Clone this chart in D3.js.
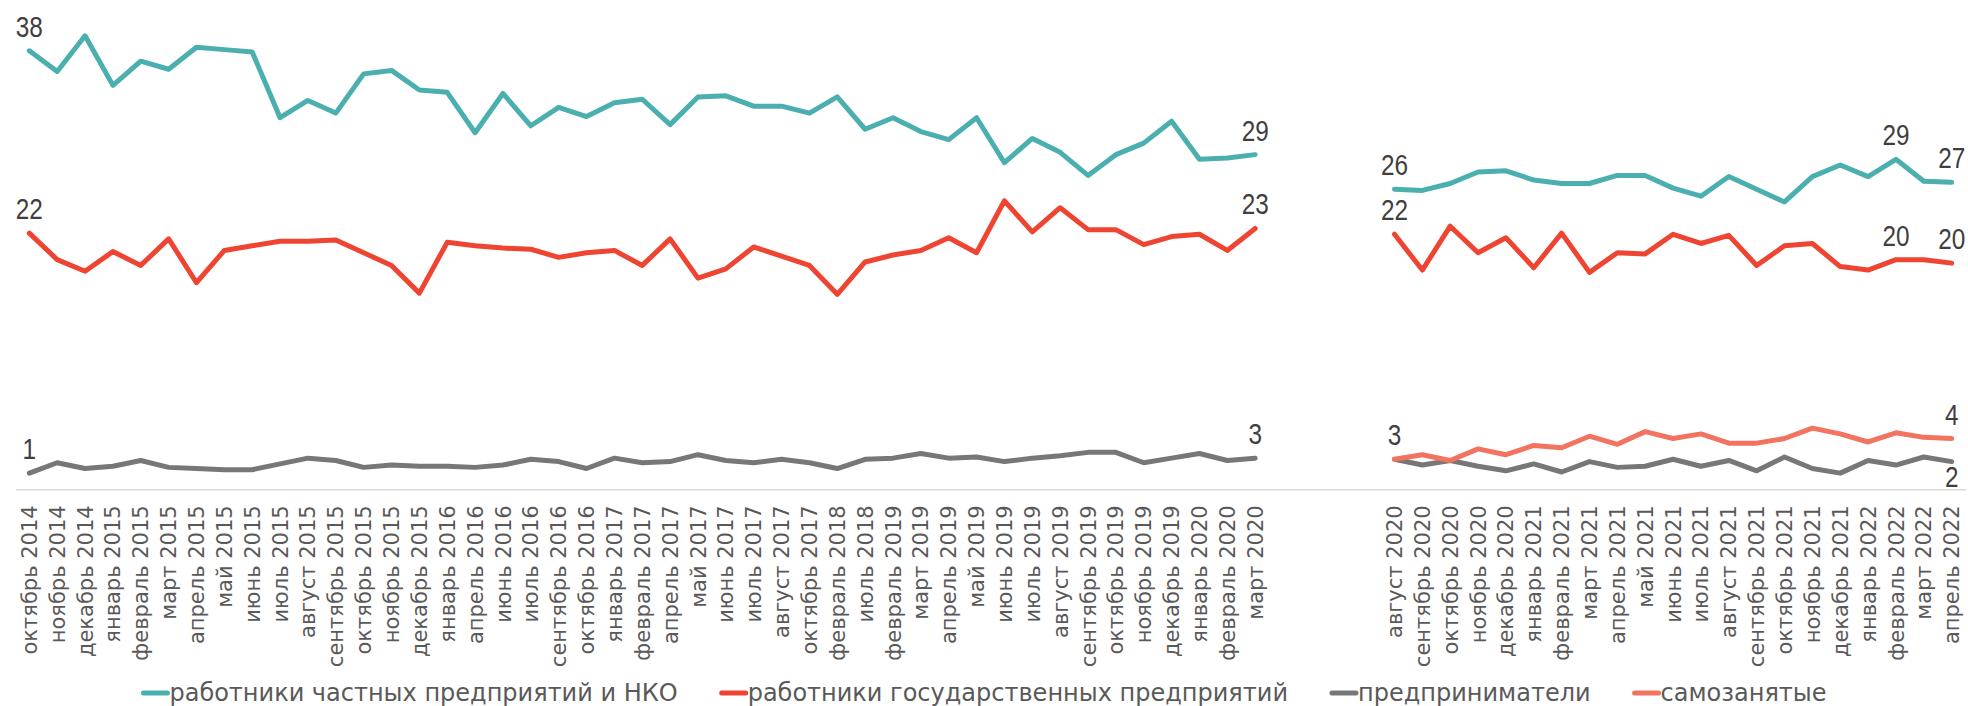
<!DOCTYPE html>
<html>
<head>
<meta charset="utf-8">
<script src="https://cdn.jsdelivr.net/npm/d3@7"></script>
<style>
  body { margin: 0; background: #fff; }
  svg { display: block; }
</style>
</head>
<body>
<svg id="chart"></svg>
<script>
// survey periods, before and after the break in the series
var periodsA = ["октябрь 2014", "ноябрь 2014", "декабрь 2014", "январь 2015", "февраль 2015", "март 2015",
  "апрель 2015", "май 2015", "июнь 2015", "июль 2015", "август 2015", "сентябрь 2015", "октябрь 2015",
  "ноябрь 2015", "декабрь 2015", "январь 2016", "апрель 2016", "июнь 2016", "июль 2016", "сентябрь 2016",
  "октябрь 2016", "январь 2017", "февраль 2017", "апрель 2017", "май 2017", "июнь 2017", "июль 2017",
  "август 2017", "октябрь 2017", "февраль 2018", "июль 2018", "февраль 2019", "март 2019", "апрель 2019",
  "май 2019", "июнь 2019", "июль 2019", "август 2019", "сентябрь 2019", "октябрь 2019", "ноябрь 2019",
  "декабрь 2019", "январь 2020", "февраль 2020", "март 2020"];
var periodsB = ["август 2020", "сентябрь 2020", "октябрь 2020", "ноябрь 2020", "декабрь 2020", "январь 2021",
  "февраль 2021", "март 2021", "апрель 2021", "май 2021", "июнь 2021", "июль 2021", "август 2021",
  "сентябрь 2021", "октябрь 2021", "ноябрь 2021", "декабрь 2021", "январь 2022", "февраль 2022",
  "март 2022", "апрель 2022"];
var gapSize = 4; // empty slots between the two periods

var privateA = [38.0, 36.2, 39.3, 35.0, 37.1, 36.4, 38.3, 38.1, 37.9, 32.2, 33.7, 32.6, 36.0, 36.3, 34.6,
  34.4, 30.9, 34.3, 31.5, 33.1, 32.3, 33.5, 33.8, 31.6, 34.0, 34.1, 33.2, 33.2, 32.6, 34.0, 31.2, 32.2,
  31.0, 30.3, 32.2, 28.3, 30.4, 29.2, 27.2, 29.0, 30.0, 31.9, 28.6, 28.7, 29.0];
var privateB = [26.0, 25.9, 26.5, 27.5, 27.6, 26.8, 26.5, 26.5, 27.2, 27.2, 26.1, 25.4, 27.1, 26.0, 24.9,
  27.1, 28.1, 27.1, 28.6, 26.7, 26.6];

var stateA = [22.2, 19.9, 18.9, 20.6, 19.4, 21.7, 17.9, 20.7, 21.1, 21.5, 21.5, 21.6, 20.5, 19.4, 17.0,
  21.4, 21.1, 20.9, 20.8, 20.1, 20.5, 20.7, 19.4, 21.7, 18.3, 19.1, 21.0, 20.2, 19.4, 16.9, 19.7, 20.3,
  20.7, 21.8, 20.5, 25.0, 22.3, 24.4, 22.5, 22.5, 21.2, 21.9, 22.1, 20.7, 22.6];
var stateB = [22.1, 19.0, 22.8, 20.5, 21.8, 19.2, 22.2, 18.8, 20.5, 20.4, 22.1, 21.3, 22.0, 19.4, 21.1,
  21.3, 19.3, 19.0, 19.9, 19.9, 19.6];

var entrepA = [1.4, 2.3, 1.8, 2.0, 2.5, 1.9, 1.8, 1.7, 1.7, 2.2, 2.7, 2.5, 1.9, 2.1, 2.0, 2.0, 1.9, 2.1,
  2.6, 2.4, 1.8, 2.7, 2.3, 2.4, 3.0, 2.5, 2.3, 2.6, 2.3, 1.8, 2.6, 2.7, 3.1, 2.7, 2.8, 2.4, 2.7, 2.9,
  3.2, 3.2, 2.3, 2.7, 3.1, 2.5, 2.7];
var entrepB = [2.6, 2.1, 2.5, 2.0, 1.6, 2.2, 1.5, 2.4, 1.9, 2.0, 2.6, 2.0, 2.5, 1.6, 2.8, 1.8, 1.4, 2.5,
  2.1, 2.8, 2.4];

var selfB = [2.6, 3.0, 2.5, 3.5, 3.0, 3.8, 3.6, 4.6, 3.9, 5.0, 4.4, 4.8, 4.0, 4.0, 4.4, 5.3, 4.8, 4.1,
  4.9, 4.5, 4.4];

var seriesNames = ["работники частных предприятий и НКО", "работники государственных предприятий",
  "предприниматели", "самозанятые"];
var seriesColors = ["#4bafaf", "#ef4432", "#777777", "#f2735f"];

// which points carry a value label: [series, part, index, side]
var labelled = [
  [0, "A", 0, "up"], [0, "A", 44, "up"], [1, "A", 0, "up"], [1, "A", 44, "up"],
  [2, "A", 0, "up"], [2, "A", 44, "up"],
  [0, "B", 0, "up"], [0, "B", 18, "up"], [0, "B", 20, "up"],
  [1, "B", 0, "up"], [1, "B", 18, "up"], [1, "B", 20, "up"],
  [3, "B", 0, "up"], [2, "B", 20, "down"], [3, "B", 20, "up"]
];

var width = 1968, height = 706;
var plot = { left: 15.4, right: 1965.6, top: 27.7, bottom: 489.3 };

var series = [
  { A: privateA, B: privateB },
  { A: stateA, B: stateB },
  { A: entrepA, B: entrepB },
  { A: null, B: selfB }
];

var categories = periodsA.concat(d3.range(gapSize).map(function() { return ""; }), periodsB);
var offsetB = periodsA.length + gapSize;

var svg = d3.select("#chart")
  .attr("width", width)
  .attr("height", height);

svg.append("rect").attr("width", width).attr("height", height).attr("fill", "#fff");

var x = d3.scaleBand()
  .domain(d3.range(categories.length))
  .range([plot.left, plot.right])
  .padding(0);

var y = d3.scaleLinear()
  .domain([0, 40])
  .range([plot.bottom, plot.top]);

function cx(i) { return x(i) + x.bandwidth() / 2; }

function points(values, offset) {
  return values.map(function(v, k) { return { i: k + offset, v: v }; });
}

// x axis with rotated month labels
var xAxis = svg.append("g")
  .attr("transform", "translate(0," + plot.bottom + ")")
  .call(d3.axisBottom(x).tickSize(0).tickSizeOuter(0).tickFormat(function(i) { return categories[i]; }));

xAxis.select(".domain").attr("stroke", "#d9d9d9").attr("stroke-width", 1.5);
xAxis.selectAll("text")
  .attr("transform", "rotate(-90)")
  .attr("x", -16)
  .attr("y", 0)
  .attr("dy", "0.36em")
  .style("text-anchor", "end")
  .style("font-family", "'DejaVu Sans', sans-serif")
  .style("font-size", "21px")
  .attr("fill", "#595959");

var line = d3.line()
  .x(function(d) { return cx(d.i); })
  .y(function(d) { return y(d.v); });

series.forEach(function(s, n) {
  [["A", 0], ["B", offsetB]].forEach(function(part) {
    var vals = s[part[0]];
    if (!vals) return;
    svg.append("path")
      .datum(points(vals, part[1]))
      .attr("d", line)
      .attr("fill", "none")
      .attr("stroke", seriesColors[n])
      .attr("stroke-width", 5)
      .attr("stroke-linejoin", "round")
      .attr("stroke-linecap", "round");
  });
});

// value labels, squeezed a bit to look like the narrow face of the original
labelled.forEach(function(l) {
  var vals = series[l[0]][l[1]];
  var i = l[2] + (l[1] == "A" ? 0 : offsetB);
  var v = vals[l[2]];
  var ty = l[3] == "up" ? y(v) - 14 : y(v) + 25;
  svg.append("text")
    .attr("transform", "translate(" + cx(i) + "," + ty + ") scale(0.84,1)")
    .attr("text-anchor", "middle")
    .style("font-family", "'Liberation Sans', sans-serif")
    .style("font-size", "29px")
    .attr("fill", "#3f3f3f")
    .text(d3.format(".0f")(v));
});

// legend, centred under the chart
var legend = svg.append("g");
var lx = 0;
seriesNames.forEach(function(name, n) {
  var g = legend.append("g").attr("transform", "translate(" + lx + ",0)");
  g.append("line")
    .attr("x1", 2).attr("x2", 26)
    .attr("y1", -8).attr("y2", -8)
    .attr("stroke", seriesColors[n])
    .attr("stroke-width", 5)
    .attr("stroke-linecap", "round");
  var t = g.append("text")
    .attr("x", 28)
    .style("font-family", "'DejaVu Sans', sans-serif")
    .style("font-size", "24px")
    .attr("fill", "#595959")
    .text(name);
  lx += 28 + t.node().getComputedTextLength() + 42;
});
lx -= 42;
legend.attr("transform", "translate(" + ((width - lx) / 2) + ",701)");
</script>
</body>
</html>
